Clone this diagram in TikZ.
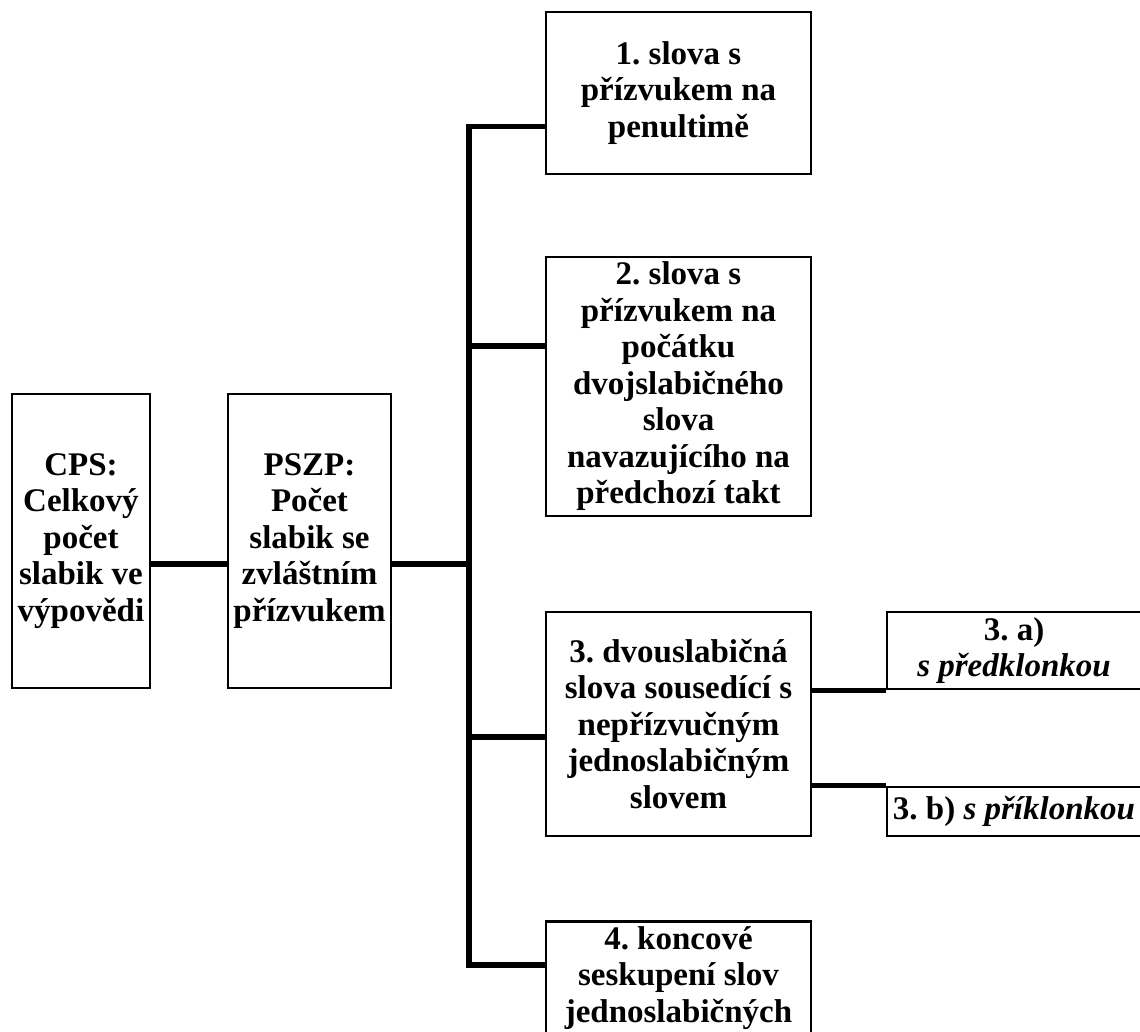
\documentclass[tikz,border=0pt]{standalone}
\usepackage{fontspec}
\setmainfont{Liberation Serif}
\frenchspacing

\begin{document}
\begin{tikzpicture}[x=1pt,y=-1pt,line join=miter]
  \tikzstyle{every node}=[font=\fontsize{33}{36.5}\selectfont\bfseries]
  \tikzstyle{box}=[draw=black,line width=2.6pt,rectangle,align=center,inner sep=2pt]
  \tikzstyle{link}=[draw=black,line width=5.5pt]

  \useasboundingbox (0,0) rectangle (1140,1031);
  \clip (0,0) rectangle (1140,1031);

  \node[box,minimum width=138pt,minimum height=294pt] at (  81.0,541.0) (cps)  {CPS:\\Celkový\\počet\\slabik ve\\výpovědi};
  \node[box,minimum width=163pt,minimum height=294pt] at ( 309.5,541.0) (pszp) {PSZP:\\Počet\\slabik se\\zvláštním\\přízvukem};
  \node[box,minimum width=265pt,minimum height=162pt] at ( 678.5, 93.0) (b1)   {1. slova s\\přízvukem na\\penultimě};
  \node[box,minimum width=265pt,minimum height=259pt] at ( 678.5,386.5) (b2)   {2. slova s\\přízvukem na\\počátku\\dvojslabičného\\slova\\navazujícího na\\předchozí takt};
  \node[box,minimum width=265pt,minimum height=224pt] at ( 678.5,724.0) (b3)   {3. dvouslabičná\\slova sousedící s\\nepřízvučným\\jednoslabičným\\slovem};
  \node[box,minimum width=254pt,minimum height=77pt]  at (1014.0,650.5) (b3a)  {3. a)\\\textit{s předklonkou}};
  \node[box,minimum width=254pt,minimum height=49pt]  at (1014.0,811.5) (b3b)  {3. b) \textit{s příklonkou}};
  \node[box,minimum width=265pt,anchor=north,inner ysep=5pt,text depth=60pt] at (678.5,920.0) (b4) {4. koncové\\seskupení slov\\jednoslabičných};

  % junctions on the trunk
  \coordinate (j0) at (469,564.0);
  \coordinate (j1) at (469,126.5);
  \coordinate (j2) at (469,346.0);
  \coordinate (j3) at (469,737.0);
  \coordinate (j4) at (469,965.0);

  \draw[link] (cps.east |- j0) -- (pszp.west |- j0);
  \draw[link] (pszp.east |- j0) -- (j0);
  \draw[link] (j1 -| b1.west) -- (j1) -- (j4) -- (j4 -| b4.west);
  \draw[link] (j2) -- (j2 -| b2.west);
  \draw[link] (j3) -- (j3 -| b3.west);
  \draw[link] (b3.east |- b3a.south) -- (b3a.south west);
  \draw[link] (b3.east |- b3b.north) -- (b3b.north west);
\end{tikzpicture}
\end{document}
